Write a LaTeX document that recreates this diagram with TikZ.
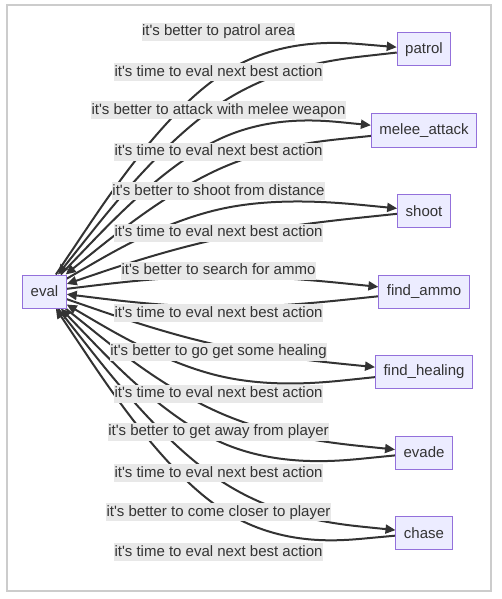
\documentclass[tikz,border=0pt]{standalone}
\usepackage{fontspec}
\setmainfont{Liberation Sans}[Ligatures=TeXOff]
\usetikzlibrary{arrows.meta,calc}

\definecolor{nodefill}{HTML}{ECECFF}
\definecolor{nodeline}{HTML}{9370DB}
\definecolor{ink}{HTML}{333333}
\definecolor{lblfill}{HTML}{E8E8E8}
\definecolor{framegray}{HTML}{CCCCCC}

\pgfdeclarelayer{edges}
\pgfsetlayers{edges,main}

\newcommand{\basisedge}[3]{%
  \path (#1) -- (#2) coordinate[pos=0] (bs);
  \path (#2) -- (#3) coordinate[pos=1] (be);
  \draw[flow] (bs) -- ($(bs)!1/6!(#2)$)
    .. controls ($(bs)!1/3!(#2)$) and ($(bs)!2/3!(#2)$)
    .. ($1/6*(bs)+2/3*(#2)+1/6*(be)$)
    .. controls ($(#2)!1/3!(be)$) and ($(#2)!2/3!(be)$)
    .. ($(#2)!5/6!(be)$) -- (be);
}

\begin{document}
\begin{tikzpicture}[
			x=1pt, y=-1pt,
			font=\fontsize{15}{18}\selectfont,
			>={Triangle[length=10pt,width=9pt]},
			state/.style={draw=nodeline, fill=nodefill, line width=1pt, text=ink,
				minimum height=33pt, inner xsep=8pt},
			lbl/.style={fill=lblfill, text=ink, inner xsep=0.5pt, inner ysep=0pt,
				minimum height=18pt, text height=11pt, text depth=3pt},
			flow/.style={draw=ink, line width=2pt, ->},
		]
			\useasboundingbox (0,0) rectangle (502,599);
			\draw[framegray, line width=2pt] (7,5) rectangle (491,591);

			\node[state] (eval) at (44.5,291.5) {eval};
			\node[state] (patrol) at (424,49.5) {patrol};
			\node[state] (melee) at (424,130.5) {melee\_attack};
			\node[state] (shoot) at (424,211) {shoot};
			\node[state] (ammo) at (424,291.5) {find\_ammo};
			\node[state] (healing) at (424,372) {find\_healing};
			\node[state] (evade) at (424,452.5) {evade};
			\node[state] (chase) at (424,533) {chase};

			\node[lbl] (bpatrol) at (218.5,32) {it's better to patrol area};
			\node[lbl] (tpatrol) at (218.5,72.5) {it's time to eval next best action};
			\node[lbl] (bmelee) at (218.5,110) {it's better to attack with melee weapon};
			\node[lbl] (tmelee) at (218.5,151.5) {it's time to eval next best action};
			\node[lbl] (bshoot) at (218.5,191) {it's better to shoot from distance};
			\node[lbl] (tshoot) at (218.5,232.5) {it's time to eval next best action};
			\node[lbl] (bammo) at (218.5,270.5) {it's better to search for ammo};
			\node[lbl] (tammo) at (218.5,313) {it's time to eval next best action};
			\node[lbl] (bhealing) at (218.5,351.5) {it's better to go get some healing};
			\node[lbl] (thealing) at (218.5,393.5) {it's time to eval next best action};
			\node[lbl] (bevade) at (218.5,431.5) {it's better to get away from player};
			\node[lbl] (tevade) at (218.5,473) {it's time to eval next best action};
			\node[lbl] (bchase) at (218.5,512) {it's better to come closer to player};
			\node[lbl] (tchase) at (218.5,552) {it's time to eval next best action};

			\begin{pgfonlayer}{edges}
				\basisedge{eval}{bpatrol}{patrol}
				\basisedge{patrol}{tpatrol}{eval}
				\basisedge{eval}{bmelee}{melee}
				\basisedge{melee}{tmelee}{eval}
				\basisedge{eval}{bshoot}{shoot}
				\basisedge{shoot}{tshoot}{eval}
				\basisedge{eval}{bammo}{ammo}
				\basisedge{ammo}{tammo}{eval}
				\basisedge{eval}{bhealing}{healing}
				\basisedge{healing}{thealing}{eval}
				\basisedge{eval}{bevade}{evade}
				\basisedge{evade}{tevade}{eval}
				\basisedge{eval}{bchase}{chase}
				\basisedge{chase}{tchase}{eval}
			\end{pgfonlayer}
		\end{tikzpicture}
\end{document}
